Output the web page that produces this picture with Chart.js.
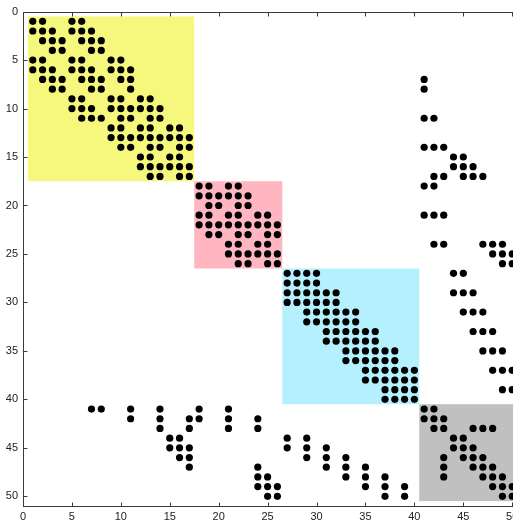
<!DOCTYPE html>
<html>
<head>
<meta charset="utf-8">
<script src="https://cdn.jsdelivr.net/npm/chart.js@4"></script>
<style>
  html, body { margin: 0; padding: 0; background: #fff; overflow: hidden; }
  #wrap { width: 530px; height: 524px; }
</style>
</head>
<body>
<div id="wrap"><canvas id="c" width="530" height="524"></canvas></div>
<script>
// Nonzero column indices for each matrix row (rows 1..50)
const rowColumns = [
  [1,2,5,6],
  [1,2,3,5,6,7],
  [2,3,4,6,7,8],
  [3,4,7,8],
  [1,2,5,6,9,10],
  [1,2,3,5,6,7,9,10,11],
  [2,3,4,6,7,8,10,11,41],
  [3,4,7,8,11,41],
  [5,6,9,10,12,13],
  [5,6,7,9,10,11,12,13,14],
  [6,7,8,10,11,13,14,41,42],
  [9,10,12,13,15,16],
  [9,10,11,12,13,14,15,16,17],
  [10,11,13,14,16,17,41,42,43],
  [12,13,15,16,44,45],
  [12,13,14,15,16,17,44,45,46],
  [13,14,16,17,42,43,45,46,47],
  [18,19,21,22,41,42],
  [18,19,20,21,22,23],
  [19,20,22,23],
  [18,19,21,22,24,25,41,42,43],
  [18,19,20,21,22,23,24,25,26],
  [19,20,22,23,25,26],
  [21,22,24,25,42,43,47,48,49],
  [21,22,23,24,25,26,48,49,50],
  [22,23,25,26,49,50],
  [27,28,29,30,44,45],
  [27,28,29,30],
  [27,28,29,30,31,32,44,45,46],
  [27,28,29,30,31,32],
  [29,30,31,32,33,34,45,46,47],
  [29,30,31,32,33,34],
  [31,32,33,34,35,36,46,47,48],
  [31,32,33,34,35,36],
  [33,34,35,36,37,38,47,48,49],
  [33,34,35,36,37,38],
  [35,36,37,38,39,40,48,49,50],
  [35,36,37,38,39,40],
  [37,38,39,40,49,50],
  [37,38,39,40],
  [7,8,11,14,18,21,41,42],
  [11,14,17,18,21,24,41,42,43],
  [14,17,21,24,42,43,46,47,48],
  [15,16,27,29,44,45],
  [15,16,17,27,29,31,44,45,46],
  [16,17,29,31,33,43,45,46,47],
  [17,24,31,33,35,43,46,47,48],
  [24,25,33,35,37,43,47,48,49],
  [24,25,26,35,37,39,48,49,50],
  [25,26,37,39,49,50]
];

// Diagonal blocks (index ranges) and their fill colours
const blockStarts = [0.5, 17.5, 26.5, 40.5];
const blockEnds   = [17.5, 26.5, 40.5, 50.5];
const blockColors = ['#f5f87d', '#ffb6c1', '#b4f0fd', '#c0c0c0'];

const tickValues = [0,5,10,15,20,25,30,35,40,45,50];
const axisMin = 0;
const axisMax = 51;

const points = [];
rowColumns.forEach((cols, i) => {
  cols.forEach(c => points.push({ x: c, y: i + 1 }));
});

const blocksPlugin = {
  id: 'blocks',
  beforeDatasetsDraw(chart) {
    const { ctx, scales: { x, y } } = chart;
    ctx.save();
    blockStarts.forEach((s, i) => {
      const e = blockEnds[i];
      const x0 = x.getPixelForValue(s), x1 = x.getPixelForValue(e);
      const y0 = y.getPixelForValue(s), y1 = y.getPixelForValue(e);
      ctx.fillStyle = blockColors[i];
      ctx.fillRect(Math.min(x0,x1), Math.min(y0,y1), Math.abs(x1-x0), Math.abs(y1-y0));
    });
    ctx.restore();
  }
};

const boxPlugin = {
  id: 'box',
  afterDatasetsDraw(chart) {
    const { ctx, chartArea: a, scales: { x, y } } = chart;
    ctx.save();
    ctx.strokeStyle = '#3a3a3a';
    ctx.lineWidth = 1;
    const L = Math.round(a.left) + 0.5, R = Math.round(a.right) + 0.5;
    const T = Math.round(a.top) + 0.5, B = Math.round(a.bottom) + 0.5;
    ctx.strokeRect(L, T, R - L, B - T);
    const tl = 4;
    ctx.beginPath();
    x.ticks.forEach(t => {
      const px = Math.round(x.getPixelForValue(t.value)) + 0.5;
      ctx.moveTo(px, B); ctx.lineTo(px, B - tl);
      ctx.moveTo(px, T); ctx.lineTo(px, T + tl);
    });
    y.ticks.forEach(t => {
      const py = Math.round(y.getPixelForValue(t.value)) + 0.5;
      ctx.moveTo(L, py); ctx.lineTo(L + tl, py);
      ctx.moveTo(R, py); ctx.lineTo(R - tl, py);
    });
    ctx.stroke();
    ctx.restore();
  }
};

const setTicks = scale => { scale.ticks = tickValues.map(v => ({ value: v })); };
const font = { family: 'Liberation Sans, Arial, sans-serif', size: 11 };

new Chart(document.getElementById('c'), {
  type: 'scatter',
  data: {
    datasets: [{
      data: points,
      pointStyle: 'circle',
      pointRadius: 3.6,
      pointHoverRadius: 3.6,
      backgroundColor: '#000',
      borderColor: '#000',
      borderWidth: 0
    }]
  },
  options: {
    responsive: false,
    animation: false,
    events: [],
    layout: { padding: { top: 11, right: 8, left: 0, bottom: 0 } },
    plugins: { legend: { display: false }, tooltip: { enabled: false } },
    scales: {
      x: {
        type: 'linear', min: axisMin, max: axisMax,
        afterBuildTicks: setTicks,
        afterFit: s => { s.height = 18; },
        grid: { display: false, drawTicks: false },
        border: { display: false },
        ticks: { font, color: '#222', padding: 4, maxRotation: 0, autoSkip: false }
      },
      y: {
        type: 'linear', min: axisMin, max: axisMax, reverse: true,
        afterBuildTicks: setTicks,
        afterFit: s => { s.width = 23; },
        grid: { display: false, drawTicks: false },
        border: { display: false },
        ticks: { font, color: '#222', padding: 5, autoSkip: false }
      }
    }
  },
  plugins: [blocksPlugin, boxPlugin]
});
</script>
</body>
</html>
